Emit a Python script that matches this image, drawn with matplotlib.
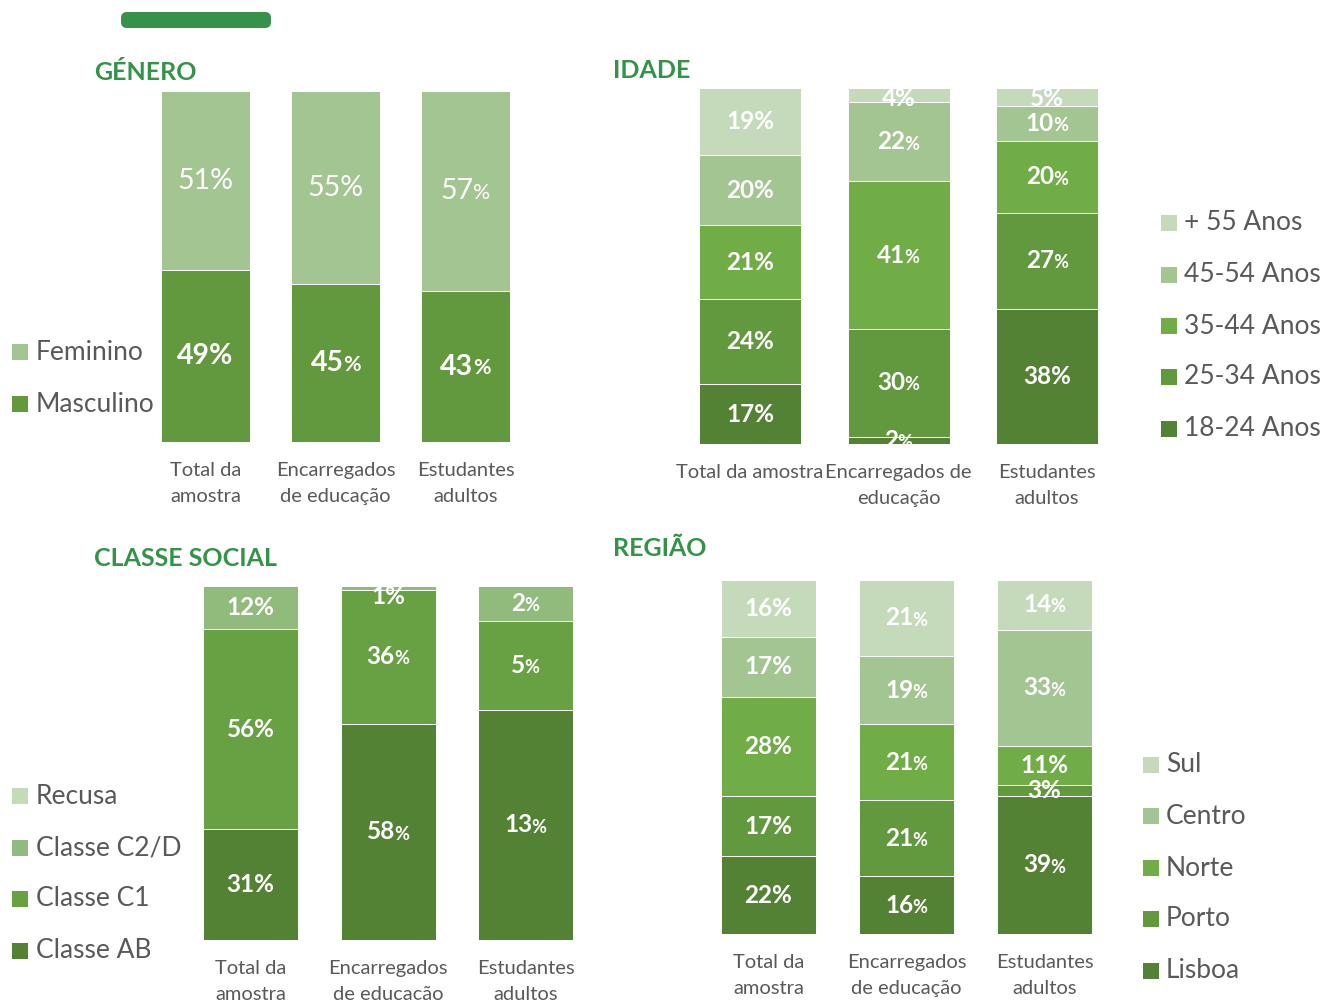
import matplotlib.pyplot as plt
from matplotlib.patches import Rectangle, FancyBboxPatch

plt.rcParams['font.family'] = ['Lato', 'DejaVu Sans']

# categorias (colunas de cada gráfico)
colunas = ['Total da\namostra', 'Encarregados\nde educação', 'Estudantes\nadultos']
colunas_idade = ['Total da amostra', 'Encarregados de\neducação', 'Estudantes\nadultos']

# género
genero_nomes = ['Masculino', 'Feminino']
masculino = [49, 45, 43]
feminino = [51, 55, 57]

# idade
idade_nomes = ['18-24 Anos', '25-34 Anos', '35-44 Anos', '45-54 Anos', '+ 55 Anos']
idade_18_24 = [17, 2, 38]
idade_25_34 = [24, 30, 27]
idade_35_44 = [21, 41, 20]
idade_45_54 = [20, 22, 10]
idade_55 = [19, 4, 5]

# classe social
classe_nomes = ['Classe AB', 'Classe C1', 'Classe C2/D', 'Recusa']
classe_ab = [31, 58, 13]
classe_c1 = [56, 36, 5]
classe_c2d = [12, 1, 2]
recusa = [0, 0, 0]

# região
regiao_nomes = ['Lisboa', 'Porto', 'Norte', 'Centro', 'Sul']
lisboa = [22, 16, 39]
porto = [17, 21, 3]
norte = [28, 21, 11]
centro = [17, 19, 33]
sul = [16, 21, 14]

VERDE_TITULO = '#339447'
CINZA = '#595959'
VERDES = ['#548235', '#62993e', '#70ad47', '#a2c591', '#c5d9bb']

W, H = 1322, 1000
fig = plt.figure(figsize=(W / 100, H / 100), dpi=100)

# eixo de fundo em pixels para títulos, legendas e a barra decorativa
fundo = fig.add_axes([0, 0, 1, 1])
fundo.set_xlim(0, W)
fundo.set_ylim(H, 0)
fundo.axis('off')

fundo.add_patch(FancyBboxPatch((121, 12), 150, 16,
                               boxstyle='round,pad=0,rounding_size=6',
                               facecolor='#36924a', edgecolor='none'))


def rotulo(ax, x, y, v, tam, peso, pct_normal):
    kw = dict(color='white', fontweight=peso, clip_on=True)
    if pct_normal:
        ax.text(x, y, f'{v}%', ha='center', va='center', fontsize=tam, **kw)
    else:
        t = ax.annotate(str(v), (x, y), xytext=(-tam * 0.3, 0),
                        textcoords='offset points', ha='center', va='center',
                        fontsize=tam, **kw)
        ax.annotate('%', xy=(1, 0.04), xycoords=t, xytext=(-0.5, 0),
                    textcoords='offset points', ha='left', va='bottom',
                    fontsize=tam * 0.75, **kw)


def painel(series, cores, categorias, centro0, passo, largura, topo, base,
           tam, normais, pesos=None):
    ax = fig.add_axes([(centro0 - passo / 2) / W, 1 - base / H,
                       3 * passo / W, (base - topo) / H])
    totais = [sum(col) for col in zip(*series)]
    x = range(3)
    acum = [0, 0, 0]
    for s, (vals, cor) in enumerate(zip(series, cores)):
        partes = [v / t * 100 for v, t in zip(vals, totais)]
        ax.bar(x, partes, largura / passo, bottom=acum, color=cor,
               edgecolor='white', linewidth=0.7)
        peso = pesos[s] if pesos else 'bold'
        for i, (v, p) in enumerate(zip(vals, partes)):
            if v == 0:
                continue
            y = min(acum[i] + p / 2, 97)
            rotulo(ax, i, y, v, tam, peso, i == 0 or (s, i) in normais)
        acum = [a + p for a, p in zip(acum, partes)]
    ax.set_xlim(-0.5, 2.5)
    ax.set_ylim(0, 100)
    ax.set_xticks(list(x), categorias)
    ax.tick_params(axis='x', length=0, pad=14.5, labelsize=14.5, labelcolor=CINZA)
    for lbl in ax.get_xticklabels():
        lbl.set_linespacing(1.62)
    ax.set_yticks([])
    for sp in ax.spines.values():
        sp.set_visible(False)
    ax.patch.set_alpha(0)
    return ax


def legenda(nomes, cores, xq, xt, ys):
    for nome, cor, y in zip(nomes, cores, ys):
        fundo.add_patch(Rectangle((xq, y - 8), 16, 16, facecolor=cor,
                                  edgecolor='none'))
        fundo.text(xt, y, nome, fontsize=19, color=CINZA, va='center')


def titulo(x, y, texto):
    fundo.text(x, y, texto, fontsize=18, fontweight='bold',
               color=VERDE_TITULO, va='center')


# GÉNERO
cores_genero = ['#62993e', '#a2c591']
painel([masculino, feminino], cores_genero, colunas,
       205.5, 130, 89, 91, 442, 20.5, {(1, 1)}, pesos=['bold', 'normal'])
titulo(94, 73, 'GÉNERO')
legenda(genero_nomes[::-1], cores_genero[::-1], 12, 36, [352, 404])

# IDADE
painel([idade_18_24, idade_25_34, idade_35_44, idade_45_54, idade_55],
       VERDES, colunas_idade, 750, 148.5, 102, 88, 444, 17.5,
       {(4, 1), (4, 2), (0, 2)})
titulo(613, 71, 'IDADE')
legenda(idade_nomes[::-1], VERDES[::-1], 1161, 1184, [223, 275, 326, 377, 429])

# CLASSE SOCIAL
cores_classe = ['#548235', '#67a143', '#91bb7c', '#c5d9bb']
painel([classe_ab, classe_c1, classe_c2d, recusa], cores_classe, colunas,
       250.5, 137.5, 95, 586, 940, 17.5, {(2, 1)})
titulo(94, 558, 'CLASSE SOCIAL')
legenda(classe_nomes[::-1], cores_classe[::-1], 12, 36, [796, 848, 899, 951])

# REGIÃO
painel([lisboa, porto, norte, centro, sul], VERDES, colunas,
       768.5, 138, 95, 580, 934, 17.5, {(2, 2), (1, 2)})
titulo(613, 549, 'REGIÃO')
legenda(regiao_nomes[::-1], VERDES[::-1], 1143, 1166, [765, 816, 868, 919, 971])

fig.savefig('out.png', dpi=100)
